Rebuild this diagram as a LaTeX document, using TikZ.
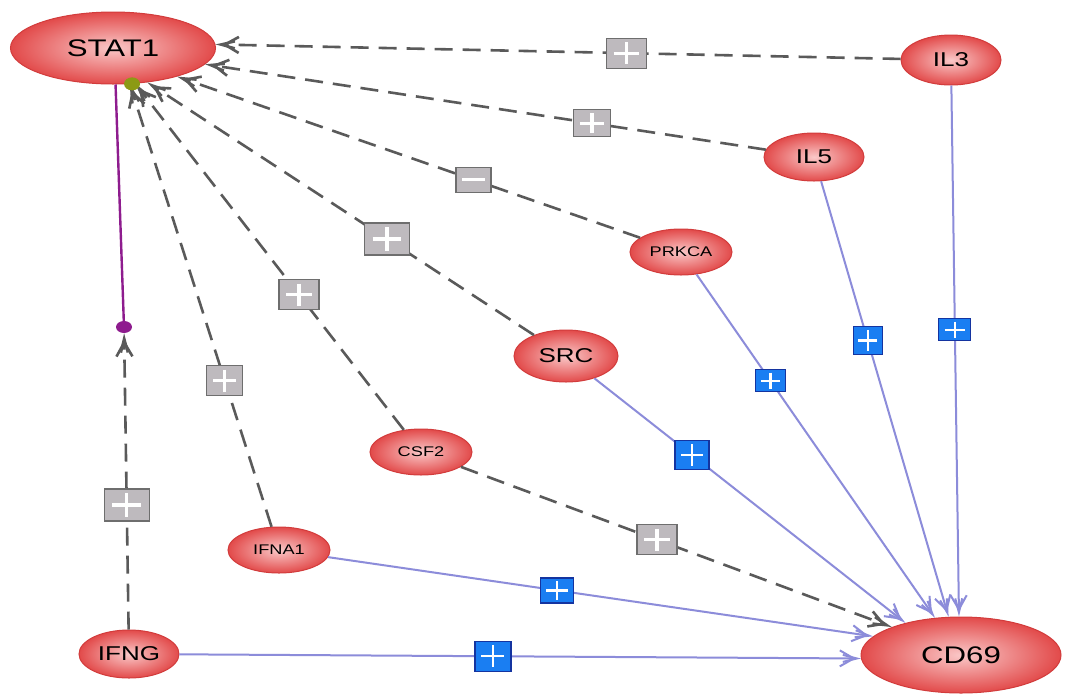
\documentclass[tikz,border=0pt]{standalone}
\usepackage{fontspec}
\setmainfont{Liberation Sans}[FakeStretch=1.3]
\usetikzlibrary{shapes.geometric,arrows.meta}

\definecolor{gene}{HTML}{E24A4A}
\definecolor{genein}{HTML}{FAC8C8}
\definecolor{geneedge}{HTML}{D23C3C}
\definecolor{dashgrey}{HTML}{5A5A5A}
\definecolor{actblue}{HTML}{8C8CDA}
\definecolor{boxgrey}{HTML}{BEBABE}
\definecolor{boxgreyedge}{HTML}{6E6E6E}
\definecolor{boxblue}{HTML}{1A7EF2}
\definecolor{boxblueedge}{HTML}{1434A0}
\definecolor{bindpurple}{HTML}{8E1C8E}
\definecolor{siteolive}{HTML}{8C9A14}

\tikzset{
  gene/.style 2 args={ellipse, draw=geneedge, line width=1pt,
    inner color=genein, outer color=gene,
    minimum width=#1, minimum height=#2, inner sep=0pt, text=black},
  big/.style={font=\fontsize{24}{26}\selectfont},
  mid/.style={font=\fontsize{20}{22}\selectfont},
  small/.style={font=\fontsize{14}{16}\selectfont},
  fan/.style={-{Straight Barb[length=14pt,width=16pt,sep=-14pt]Straight Barb[length=14pt,width=7pt]}},
  indirect/.style={draw=dashgrey, line width=2.6pt, dash pattern=on 18pt off 10pt, fan},
  direct/.style={draw=actblue, line width=2pt, fan},
  plusbox/.style n args={3}{rectangle, inner sep=0pt, line width=1.2pt, solid,
    minimum width=#1, minimum height=#2,
    path picture={\draw[white, solid, -, line width=#3]
      ([xshift=0.18*#1]path picture bounding box.west) --
      ([xshift=-0.18*#1]path picture bounding box.east)
      ([yshift=-0.13*#2]path picture bounding box.north) --
      ([yshift=0.13*#2]path picture bounding box.south);}},
  gplus/.style 2 args={plusbox={#1}{#2}{3.2pt}, fill=boxgrey, draw=boxgreyedge},
  bplus/.style 2 args={plusbox={#1}{#2}{2.4pt}, fill=boxblue, draw=boxblueedge},
  gminus/.style 2 args={rectangle, inner sep=0pt, line width=1.2pt, solid,
    minimum width=#1, minimum height=#2, fill=boxgrey, draw=boxgreyedge,
    path picture={\draw[white, solid, -, line width=3.2pt]
      ([xshift=0.18*#1]path picture bounding box.west) --
      ([xshift=-0.18*#1]path picture bounding box.east);}},
}

\begin{document}
\begin{tikzpicture}[x=1pt, y=-1pt]
  \fill[white] (0,0) rectangle (1065,697);
  \useasboundingbox (0,0) rectangle (1065,697);

  % genes
  \node[gene={205}{72}, big] (STAT1) at (113,48) {STAT1};
  \node[gene={100}{50}, mid] (IL3) at (951,60) {IL3};
  \node[gene={100}{48}, mid] (IL5) at (814,157) {IL5};
  \node[gene={102}{46}, small] (PRKCA) at (681,252) {PRKCA};
  \node[gene={104}{52}, mid] (SRC) at (566,356) {SRC};
  \node[gene={102}{46}, small] (CSF2) at (421,452) {CSF2};
  \node[gene={102}{46}, small] (IFNA1) at (279,550) {IFNA1};
  \node[gene={100}{48}, mid] (IFNG) at (129,654) {IFNG};
  \node[gene={200}{76}, big] (CD69) at (961,655) {CD69};

  % binding site on the STAT1 link
  \node[ellipse, fill=bindpurple, minimum width=16, minimum height=12, inner sep=0pt] (bind) at (124,327) {};
  \draw[bindpurple, line width=2.4pt] (bind) -- (STAT1.-86);

  % indirect effects on STAT1
  \draw[indirect] (IL3) -- node[gplus={40}{30}, pos=0.40] {} (STAT1.2);
  \draw[indirect] (IL5) -- node[gplus={37}{27}, pos=0.31] {} (STAT1.-10);
  \draw[indirect] (PRKCA) -- node[gminus={35}{25}, pos=0.36] {} (STAT1.-24);
  \draw[indirect] (SRC) -- node[gplus={45}{32}, pos=0.38] {} (STAT1.-45);
  \draw[indirect] (CSF2) -- node[gplus={40}{30}, pos=0.39] {} (STAT1.-58);
  \draw[indirect] (IFNA1) -- node[gplus={36}{30}, pos=0.33] {} (STAT1.-65);
  \draw[indirect] (IFNG) -- node[gplus={45}{32}, pos=0.42] {} (bind);

  % effects on CD69
  \draw[direct] (IL3) -- node[bplus={32}{22}, pos=0.46] {} (CD69.93);
  \draw[direct] (IL5) -- node[bplus={29}{28}, pos=0.366] {} (CD69.108);
  \draw[direct] (PRKCA) -- node[bplus={30}{22}, pos=0.31] {} (CD69.125);
  \draw[direct] (SRC) -- node[bplus={34}{29}, pos=0.314] {} (CD69.150);
  \draw[indirect] (CSF2) -- node[gplus={40}{30}, pos=0.455] {} (CD69.158);
  \draw[direct] (IFNA1) -- node[bplus={33}{25}, pos=0.42] {} (CD69.168);
  \draw[direct] (IFNG) -- node[bplus={36}{30}, pos=0.46] {} (CD69.182);

  % modification site on STAT1
  \node[ellipse, fill=siteolive, minimum width=16, minimum height=13, inner sep=0pt] (site) at (STAT1.-62) {};
\end{tikzpicture}
\end{document}
